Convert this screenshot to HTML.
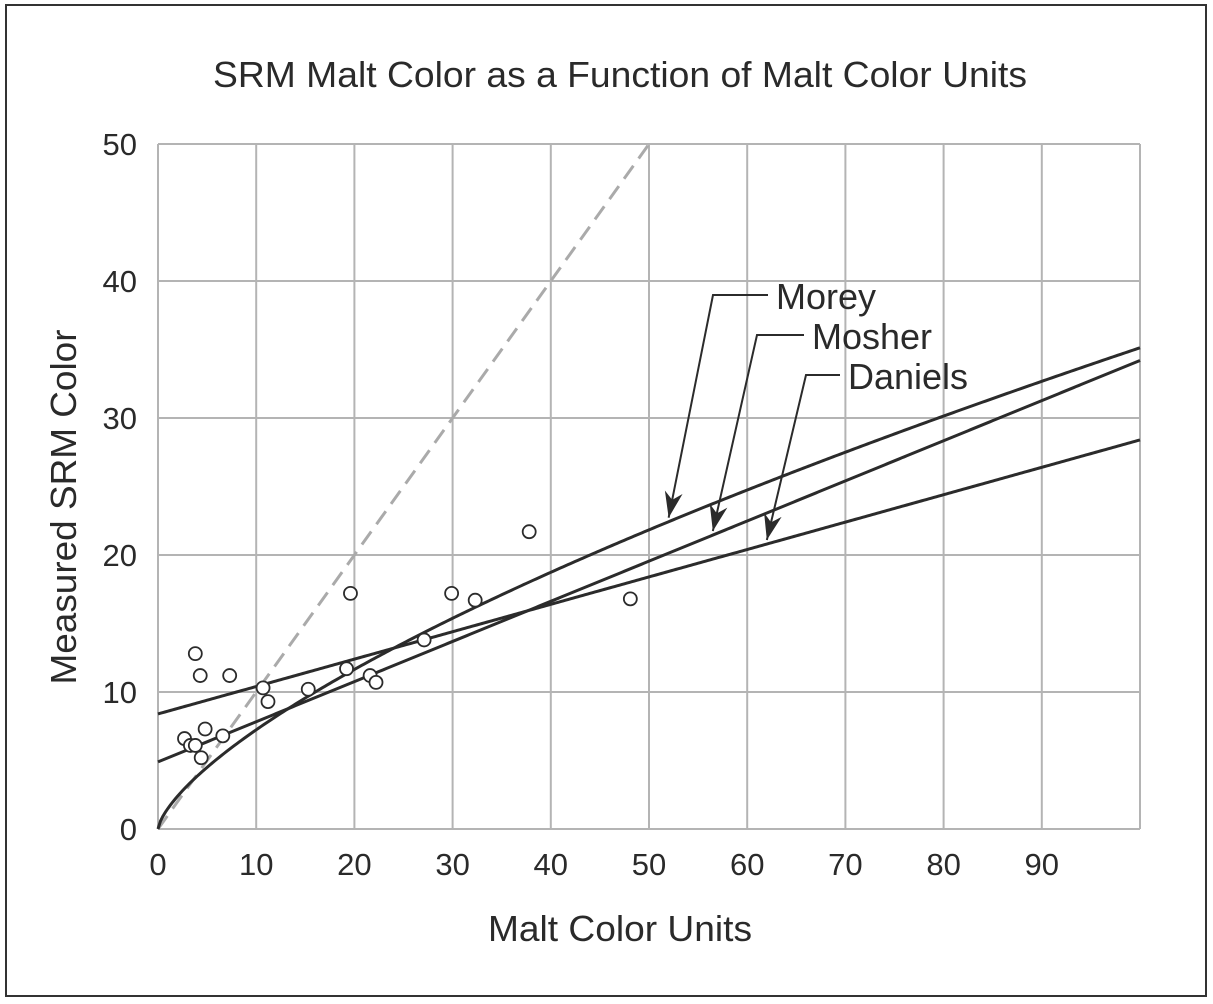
<!DOCTYPE html>
<html><head><meta charset="utf-8"><style>
html,body{margin:0;padding:0;background:#fff;}
svg{display:block;font-family:"Liberation Sans",Arial,sans-serif;}
</style></head><body>
<svg id="chart" width="1213" height="1004" viewBox="0 0 1213 1004">
<rect x="6" y="5" width="1200" height="991" fill="#fff" stroke="#333" stroke-width="2"/>
<text x="620" y="87" font-size="36" text-anchor="middle" textLength="814" lengthAdjust="spacingAndGlyphs" fill="#2a2a2a">SRM Malt Color as a Function of Malt Color Units</text>
<g id="grid"></g>
<g id="xticks"></g>
<g id="yticks"></g>
<g id="curves"></g>
<g id="points"></g>
<g id="annot"></g>
<text x="620" y="941" font-size="36" text-anchor="middle" textLength="264" lengthAdjust="spacingAndGlyphs" fill="#2a2a2a">Malt Color Units</text>
<text x="76" y="507" font-size="36" text-anchor="middle" textLength="355" lengthAdjust="spacingAndGlyphs" fill="#2a2a2a" transform="rotate(-90 76 507)">Measured SRM Color</text>
</svg>
<script>
const xTicks=[0,10,20,30,40,50,60,70,80,90];
const yTicks=[0,10,20,30,40,50];
const ptX=[2.7,3.3,3.8,3.8,4.3,4.4,4.8,6.6,7.3,10.7,11.2,15.3,19.2,19.6,21.6,22.2,27.1,29.9,32.3,37.8,48.1];
const ptY=[6.6,6.1,6.1,12.8,11.2,5.2,7.3,6.8,11.2,10.3,9.3,10.2,11.7,17.2,11.2,10.7,13.8,17.2,16.7,21.7,16.8];
const moreyCoef=[1.4922,0.6859];
const mosherCoef=[0.293,4.9];
const danielsCoef=[0.2,8.4];
const labels=["Morey","Mosher","Daniels"];
const labelTargetX=[52,56.5,62];

const L=158,R=1140,T=144,B=829;
const sx=v=>L+(v/100)*(R-L);
const sy=v=>B-(v/50)*(B-T);
const NS="http://www.w3.org/2000/svg";
function mk(tag,attrs,parent){const e=document.createElementNS(NS,tag);for(const k in attrs)e.setAttribute(k,attrs[k]);parent.appendChild(e);return e;}
const grid=document.getElementById('grid');
const gx=[10,20,30,40,50,60,70,80,90,100];
gx.forEach(v=>{const l=mk('line',{x1:sx(v),x2:sx(v),y1:T,y2:B,stroke:'#b4b4b4','stroke-width':2},grid);

});
yTicks.forEach(v=>{const l=mk('line',{x1:L,x2:R,y1:sy(v),y2:sy(v),stroke:'#b4b4b4','stroke-width':2},grid);

});
const ax=mk('line',{x1:L,x2:L,y1:T,y2:B,stroke:'#b4b4b4','stroke-width':2},grid);


const xt=document.getElementById('xticks');
xTicks.forEach(v=>{const t=mk('text',{x:sx(v),y:875,'font-size':31,'text-anchor':'middle',fill:'#2a2a2a'},xt);t.textContent=v;

});
const yt=document.getElementById('yticks');
yTicks.forEach(v=>{const t=mk('text',{x:137,y:sy(v)+11,'font-size':31,'text-anchor':'end',fill:'#2a2a2a'},yt);t.textContent=v;

});
const cv=document.getElementById('curves');
const dash=mk('line',{x1:sx(0),y1:sy(0),x2:sx(50),y2:sy(50),stroke:'#aaa','stroke-width':3,'stroke-dasharray':'16 9'},cv);


function curve(f,name){let d='';for(let i=0;i<=400;i++){const x=i/4;d+=(i?'L':'M')+sx(x).toFixed(2)+' '+sy(f(x)).toFixed(2);}
const p=mk('path',{d:d,fill:'none',stroke:'#2b2b2b','stroke-width':3},cv);

}
const morey=x=>moreyCoef[0]*Math.pow(x,moreyCoef[1]);
const mosher=x=>mosherCoef[0]*x+mosherCoef[1];
const daniels=x=>danielsCoef[0]*x+danielsCoef[1];
curve(morey,'morey-curve');curve(mosher,'mosher-line');curve(daniels,'daniels-line');
const pg=document.getElementById('points');
ptX.forEach((x,i)=>{const c=mk('circle',{cx:sx(x),cy:sy(ptY[i]),r:6.5,fill:'#fff',stroke:'#2b2b2b','stroke-width':1.8},pg);

});
const an=document.getElementById('annot');
const fns=[morey,mosher,daniels];
const corners=[[713,295,768],[757,335,804],[806,375,840]];
const textY=[309,349,389];
labels.forEach((lab,i)=>{const tx=sx(labelTargetX[i]),ty=sy(fns[i](labelTargetX[i]))-4;
const [cx,cy,ex]=corners[i];
const pl=mk('polyline',{points:`${ex},${cy} ${cx},${cy} ${tx},${ty}`,fill:'none',stroke:'#2b2b2b','stroke-width':2},an);


const ang=Math.atan2(ty-cy,tx-cx);const len=26,w=9;
const bx=tx-len*Math.cos(ang),by=ty-len*Math.sin(ang);
const nx=-Math.sin(ang)*w,ny=Math.cos(ang)*w;
const mx=tx-len*0.7*Math.cos(ang),my=ty-len*0.7*Math.sin(ang);
const ah=mk('polygon',{points:`${tx},${ty} ${bx+nx},${by+ny} ${mx},${my} ${bx-nx},${by-ny}`,fill:'#2b2b2b'},an);


const t=mk('text',{x:ex+8,y:textY[i],'font-size':36,fill:'#2a2a2a'},an);t.textContent=lab;

});
</script>
</body></html>
